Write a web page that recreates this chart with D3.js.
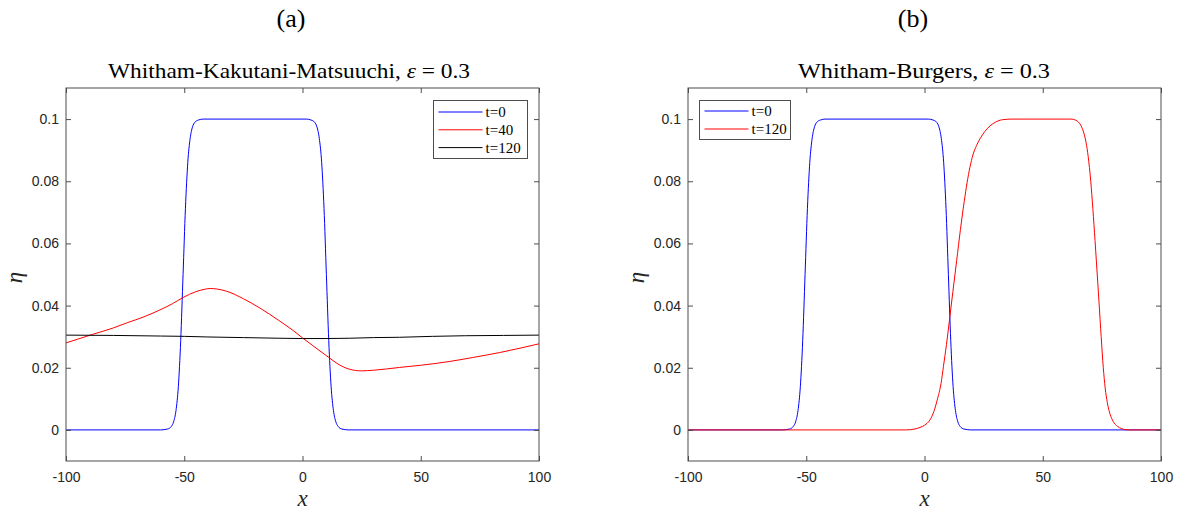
<!DOCTYPE html>
<html>
<head>
<meta charset="utf-8">
<script src="https://cdn.jsdelivr.net/npm/d3@7"></script>
<style>
  html, body { margin: 0; padding: 0; background: #fff; }
  svg { display: block; }
</style>
</head>
<body>
<svg id="chart" width="1179" height="510"></svg>
<script>
// ---------------- DATA ----------------
const xTickValues = [-100, -50, 0, 50, 100];
const xTickLabels = ["-100", "-50", "0", "50", "100"];
const yTickValues = [0, 0.02, 0.04, 0.06, 0.08, 0.1];
const yTickLabels = ["0", "0.02", "0.04", "0.06", "0.08", "0.1"];

// t=0 initial profile (same in both panels)
const blueX = [-100, -60, -57, -55.5, -54.5, -53.5, -52.5, -51.5, -50.5, -49.5, -48.5, -47.5, -46.5, -45.5, -44, -42,
               1.6, 3.6, 5.1, 6.1, 7.1, 8.1, 9.1, 10.1, 11.1, 12.1, 13.1, 14.1, 15.1, 16.6, 19.6, 100];
const blueY = [0, 0, 0.0003, 0.0011, 0.0026, 0.0062, 0.0139, 0.0287, 0.0500, 0.0713, 0.0861, 0.0938, 0.0975, 0.0990, 0.0997, 0.1,
               0.1, 0.0997, 0.0990, 0.0975, 0.0938, 0.0861, 0.0713, 0.0500, 0.0287, 0.0139, 0.0062, 0.0026, 0.0011, 0.0003, 0, 0];

// Panel (a): t=40
const redAX = [-100, -95, -88.5, -80, -74.4, -67, -60.3, -55, -50.5, -45, -41, -39, -36, -32, -25, -18, -10, -4, 0, 3, 7, 10.8, 15, 20, 24.9, 30, 41, 50, 62, 72, 83.4, 92, 100];
const redAY = [0.0280, 0.0292, 0.0308, 0.0328, 0.0344, 0.0364, 0.0386, 0.0406, 0.0426, 0.0445, 0.0453, 0.0455, 0.0453, 0.0446, 0.0422, 0.0392, 0.0352, 0.0320, 0.0296, 0.0279, 0.0256, 0.0235, 0.0212, 0.0195, 0.0190, 0.0192, 0.0201, 0.0208, 0.0220, 0.0233, 0.0249, 0.0263, 0.0277];

// Panel (a): t=120
const blackAX = [-100, -80, -60, -50, -40, -25, -10, 0, 10, 20, 30, 41, 55, 69, 85, 100];
const blackAY = [0.0305, 0.0304, 0.0302, 0.0301, 0.0299, 0.0297, 0.0295, 0.0294, 0.0294, 0.0295, 0.0297, 0.0298, 0.0301, 0.0303, 0.0304, 0.0305];

// Panel (b): t=120
const redBX = [-100, -8, -4, -1.9, 0, 2.3, 4, 5.4, 7, 8.0, 9.3, 10.5, 12, 13.6, 15.2, 16.8, 18, 19.2, 20.5, 22, 23.5, 25.5, 27.7, 30, 33, 37,
               62, 63, 64.5, 65.7, 66.7, 67.5, 68.3, 69.2, 70.3, 71.2, 72.1, 72.7, 73.8, 74.7, 75.6, 76.4, 77.3, 78.5, 79.8, 81.5, 83.4, 86, 100];
const redBY = [0, 0, 0.0003, 0.0008, 0.0015, 0.0032, 0.006, 0.0097, 0.015, 0.0204, 0.0275, 0.0350, 0.0445, 0.0545, 0.0645, 0.0735, 0.0795, 0.0845, 0.0885, 0.0915, 0.0937, 0.0960, 0.0978, 0.0990, 0.0998, 0.1,
               0.1, 0.0999, 0.0994, 0.0985, 0.0970, 0.0952, 0.0925, 0.0880, 0.0800, 0.0710, 0.0610, 0.0540, 0.0410, 0.0300, 0.0200, 0.0135, 0.0088, 0.0050, 0.0027, 0.0012, 0.0004, 0, 0];

const panelLabels = ["(a)", "(b)"];
const titleNames = ["Whitham-Kakutani-Matsuuchi, ", "Whitham-Burgers, "];
const epsText = "\u03B5";
const epsValue = " = 0.3";
const legendA = ["t=0", "t=40", "t=120"];
const legendB = ["t=0", "t=120"];

// ---------------- DRAW ----------------
const svg = d3.select("#chart");
const AX = "#4d4d4d";
const TXT = "#262626";
const serif = "'Liberation Serif', 'DejaVu Serif', serif";
const sans = "'Liberation Sans', Arial, sans-serif";

const zip = (xs, ys) => xs.map((x, i) => ({x, y: ys[i]}));

function panel(opts) {
  const {left, right, top, bottom} = opts;
  const x = d3.scaleLinear().domain([-100, 100]).range([left, right]);
  const y = d3.scaleLinear().domain([-0.01, 0.11]).range([bottom, top]);
  const g = svg.append("g");

  // series
  const line = d3.line().x(d => x(d.x)).y(d => y(d.y)).curve(d3.curveMonotoneX);
  opts.series.forEach(s => {
    g.append("path").datum(zip(s.xs, s.ys))
      .attr("fill", "none").attr("stroke", s.color).attr("stroke-width", 1)
      .attr("d", line);
  });

  // axes
  const bottomAx = d3.axisBottom(x).tickValues(xTickValues).tickFormat((d, i) => xTickLabels[i]).tickSize(-5).tickPadding(11);
  const topAx = d3.axisTop(x).tickValues(xTickValues).tickFormat("").tickSize(-5);
  const leftAx = d3.axisLeft(y).tickValues(yTickValues).tickFormat((d, i) => yTickLabels[i]).tickSize(-5).tickPadding(7);
  const rightAx = d3.axisRight(y).tickValues(yTickValues).tickFormat("").tickSize(-5);

  const style = sel => {
    sel.select(".domain").remove();
    sel.selectAll(".tick line").attr("stroke", AX);
    sel.selectAll(".tick text").attr("fill", TXT).style("font-family", sans).style("font-size", "14px");
  };
  g.append("g").attr("transform", `translate(0,${bottom})`).call(bottomAx).call(style);
  g.append("g").attr("transform", `translate(0,${top})`).call(topAx).call(style);
  g.append("g").attr("transform", `translate(${left},0)`).call(leftAx).call(style);
  g.append("g").attr("transform", `translate(${right},0)`).call(rightAx).call(style);

  g.append("rect").attr("x", left).attr("y", top).attr("width", right - left).attr("height", bottom - top)
    .attr("fill", "none").attr("stroke", AX).attr("stroke-width", 1);

  // axis labels
  g.append("text").attr("x", (left + right) / 2).attr("y", 506).attr("text-anchor", "middle")
    .style("font-family", serif).style("font-style", "italic").style("font-size", "23px").attr("fill", TXT).text("x");
  g.append("text").attr("transform", `translate(${left - 44},${(top + bottom) / 2 + 3}) rotate(-90)`).attr("text-anchor", "middle")
    .style("font-family", serif).style("font-style", "italic").style("font-size", "23px").attr("fill", TXT).text("\u03B7");

  // title
  const title = g.append("text").attr("x", opts.titleCx).attr("y", 78).attr("text-anchor", "middle")
    .attr("textLength", opts.titleLen).attr("lengthAdjust", "spacingAndGlyphs")
    .style("font-family", serif).style("font-size", "22px").attr("fill", "#000");
  title.append("tspan").text(opts.titleName);
  title.append("tspan").style("font-style", "italic").text(epsText);
  title.append("tspan").text(epsValue);

  // panel label
  g.append("text").attr("x", opts.labelCx).attr("y", 27).attr("text-anchor", "middle")
    .style("font-family", serif).style("font-size", "26px").attr("fill", "#000").text(opts.label);

  // legend
  const L = opts.legend;
  const lg = g.append("g");
  lg.append("rect").attr("x", L.x).attr("y", L.y).attr("width", L.w).attr("height", L.h)
    .attr("fill", "#fff").attr("stroke", AX).attr("stroke-width", 1);
  L.items.forEach((it, i) => {
    const yy = L.firstRow + i * L.rowStep;
    lg.append("line").attr("x1", L.x + 5).attr("x2", L.x + 49).attr("y1", yy).attr("y2", yy)
      .attr("stroke", it.color).attr("stroke-width", 1);
    lg.append("text").attr("x", L.x + 52).attr("y", yy).attr("dy", "0.35em")
      .style("font-family", serif).style("font-size", "15px").attr("fill", "#000").text(it.label);
  });
}

panel({
  left: 66, right: 539, top: 88, bottom: 461,
  series: [
    {xs: blueX, ys: blueY, color: "#0000ff"},
    {xs: redAX, ys: redAY, color: "#ff0000"},
    {xs: blackAX, ys: blackAY, color: "#000000"}
  ],
  titleName: titleNames[0], titleCx: 289, titleLen: 362, label: panelLabels[0], labelCx: 291,
  legend: {x: 433.5, y: 100.5, w: 94, h: 58, firstRow: 112, rowStep: 17.8,
    items: [{label: legendA[0], color: "#0000ff"}, {label: legendA[1], color: "#ff0000"}, {label: legendA[2], color: "#000000"}]}
});

panel({
  left: 688, right: 1161, top: 88, bottom: 461,
  series: [
    {xs: blueX, ys: blueY, color: "#0000ff"},
    {xs: redBX, ys: redBY, color: "#ff0000"}
  ],
  titleName: titleNames[1], titleCx: 924, titleLen: 252, label: panelLabels[1], labelCx: 913,
  legend: {x: 699.5, y: 100.5, w: 91, h: 39, firstRow: 111, rowStep: 18,
    items: [{label: legendB[0], color: "#0000ff"}, {label: legendB[1], color: "#ff0000"}]}
});
</script>
</body>
</html>
